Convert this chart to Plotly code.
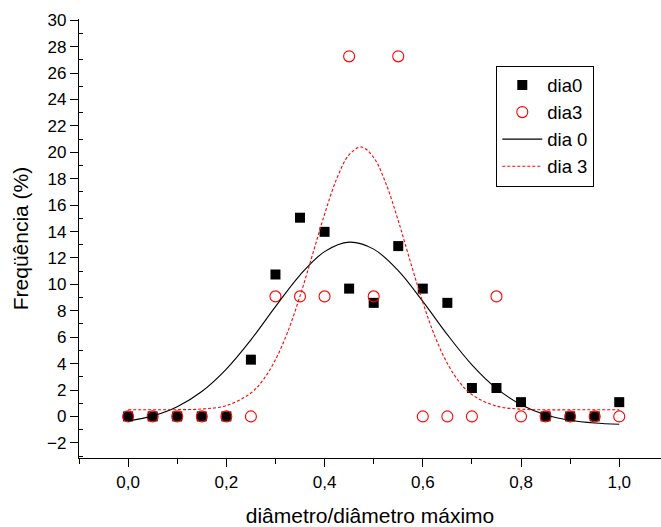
import plotly.graph_objects as go

# Relative diameter classes (diâmetro / diâmetro máximo)
classes = [0.00, 0.05, 0.10, 0.15, 0.20, 0.25, 0.30, 0.35, 0.40, 0.45, 0.50,
           0.55, 0.60, 0.65, 0.70, 0.75, 0.80, 0.85, 0.90, 0.95, 1.00]

# Frequency (%) per class, day 0 and day 3
freq_dia0 = [0.00, 0.00, 0.00, 0.00, 0.00, 4.30, 10.75, 15.05, 13.98, 9.68, 8.60,
             12.90, 9.68, 8.60, 2.15, 2.15, 1.08, 0.00, 0.00, 0.00, 1.08]
freq_dia3 = [0.00, 0.00, 0.00, 0.00, 0.00, 0.00, 9.09, 9.09, 9.09, 27.27, 9.09,
             27.27, 0.00, 0.00, 0.00, 9.09, 0.00, 0.00, 0.00, 0.00, 0.00]

# Fitted distribution curves
fit0_x = [0.00, 0.05, 0.10, 0.15, 0.20, 0.25, 0.30, 0.35, 0.40, 0.45, 0.50,
          0.55, 0.60, 0.65, 0.70, 0.75, 0.80, 0.85, 0.90, 0.95, 1.00]
fit0_y = [-0.34, 0.04, 0.74, 1.89, 3.59, 5.80, 8.31, 10.71, 12.48, 13.20, 12.67,
          11.04, 8.71, 6.19, 3.91, 2.12, 0.89, 0.13, -0.29, -0.50, -0.59]

fit3_x = [0.00, 0.05, 0.10, 0.15, 0.20, 0.25, 0.275, 0.30, 0.325, 0.35, 0.375,
          0.40, 0.425, 0.45, 0.475, 0.50, 0.525, 0.55, 0.575, 0.60, 0.625,
          0.65, 0.675, 0.70, 0.75, 0.80, 0.85, 0.90, 0.95, 1.00]
fit3_y = [0.50, 0.50, 0.51, 0.56, 0.82, 1.77, 2.77, 4.29, 6.41, 9.11, 12.19,
          15.31, 18.02, 19.82, 20.40, 19.61, 17.63, 14.83, 11.68, 8.64, 6.03,
          4.01, 2.58, 1.65, 0.78, 0.55, 0.50, 0.50, 0.50, 0.50]

RED = "#ff0000"
FONT = "Arial, Liberation Sans, sans-serif"

fig = go.Figure()
fig.add_trace(go.Scatter(
    x=classes, y=freq_dia0, mode="markers", name="dia0",
    marker=dict(symbol="square", size=10, color="black", line=dict(width=0)),
))
fig.add_trace(go.Scatter(
    x=classes, y=freq_dia3, mode="markers", name="dia3",
    marker=dict(symbol="circle-open", size=11, color=RED, line=dict(width=1.1)),
))
fig.add_trace(go.Scatter(
    x=fit0_x, y=fit0_y, mode="lines", name="dia 0",
    line=dict(color="black", width=1.1, shape="spline", smoothing=1),
))
fig.add_trace(go.Scatter(
    x=fit3_x, y=fit3_y, mode="lines", name="dia 3",
    line=dict(color=RED, width=1.1, dash="3px,2px", shape="spline", smoothing=1),
))

fig.update_layout(
    width=661, height=527,
    margin=dict(l=79, r=0, t=19, b=69),
    paper_bgcolor="white", plot_bgcolor="white",
    separators=",.",
    font=dict(family=FONT, color="black", size=17),
    showlegend=True,
    legend=dict(
        x=0.717, y=0.894, xanchor="left", yanchor="top",
        bordercolor="black", borderwidth=1, bgcolor="white",
        font=dict(size=18.5, family=FONT), tracegroupgap=0,
        itemwidth=40,
    ),
)

fig.update_xaxes(
    range=[-0.1, 1.085], showgrid=False, zeroline=False,
    showline=True, linecolor="black", linewidth=1.2,
    tickmode="linear", tick0=0, dtick=0.2, tickformat=".1f",
    ticks="outside", ticklen=8, tickwidth=1.2, tickcolor="black",
    minor=dict(tickmode="linear", tick0=0, dtick=0.1, ticks="outside",
               ticklen=5, tickwidth=1.2, tickcolor="black"),
    tickfont=dict(size=17),
    title=dict(text="diâmetro/diâmetro máximo", font=dict(size=21), standoff=18),
)
fig.update_yaxes(
    range=[-3.15, 30.1], showgrid=False, zeroline=False,
    showline=True, linecolor="black", linewidth=1.2,
    tickmode="linear", tick0=0, dtick=2,
    ticks="outside", ticklen=8, tickwidth=1.2, tickcolor="black",
    minor=dict(tickmode="linear", tick0=1, dtick=2, ticks="inside",
               ticklen=4, tickwidth=1.2, tickcolor="black"),
    tickfont=dict(size=17),
    title=dict(text="Freqüência (%)", font=dict(size=21), standoff=12),
)

fig.write_html("out.html")
